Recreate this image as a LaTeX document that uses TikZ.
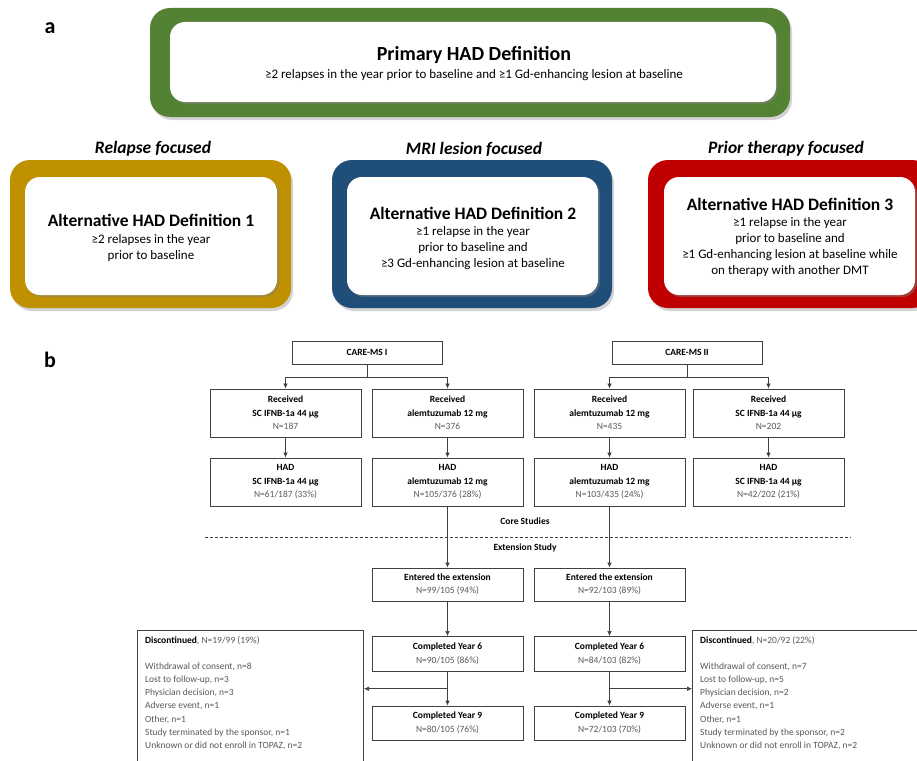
\documentclass[tikz,border=0pt]{standalone}
\usepackage{fontspec}
\setmainfont{Carlito}
\usetikzlibrary{arrows.meta,shadows,calc}
\definecolor{cgreen}{HTML}{548235}
\definecolor{cgold}{HTML}{BF9000}
\definecolor{cblue}{HTML}{1F4E79}
\definecolor{cred}{HTML}{C00000}
\definecolor{ctxt}{HTML}{595959}
\definecolor{cline}{HTML}{404040}
\begin{document}
\begin{tikzpicture}[x=1pt,y=-1pt,
  outerbox/.style={rounded corners=20pt, fill=#1, drop shadow={opacity=0.35, shadow xshift=2pt, shadow yshift=-3pt}},
  innerbox/.style={rounded corners=15pt, fill=white, drop shadow={opacity=0.45, shadow xshift=2pt, shadow yshift=-2pt}},
  panel/.style={font=\fontsize{22}{24}\selectfont\bfseries},
  deftitle/.style={font=\fontsize{17.5}{19}\selectfont\bfseries, inner sep=0pt},
  defbody/.style={font=\fontsize{13}{16}\selectfont, align=center, inner sep=0pt},
  focus/.style={font=\fontsize{17.5}{19}\selectfont\bfseries\itshape, inner sep=0pt},
  fbox/.style={draw=cline, line width=1pt, fill=white, minimum width=151pt, align=center, inner sep=0pt, font=\fontsize{9.5}{13.5}\selectfont},
  lbl/.style={font=\fontsize{9.5}{12}\selectfont\bfseries, inner sep=0pt},
  conn/.style={draw=cline, line width=0.6pt},
  arr/.style={conn, -{Latex[length=5pt,width=4.5pt]}},
  gtxt/.style={text=ctxt}
]
\useasboundingbox (0,0) rectangle (917,760);
\clip (0,0) rectangle (917,760);

% ---------- panel a ----------
\node[panel] (la) at (50,28) {a};
\path[outerbox=cgreen] (150,8) rectangle (790,117);
\path[innerbox] (170,22) rectangle (776,102);
\node[font=\fontsize{20}{22}\selectfont\bfseries, inner sep=0pt] (pt) at (474,55) {Primary HAD Definition};
\node[font=\fontsize{13}{15}\selectfont, inner sep=0pt] (pb) at (474,75) {≥2 relapses in the year prior to baseline and ≥1 Gd-enhancing lesion at baseline};

\node[focus] (f1) at (153,149) {Relapse focused};
\node[focus] (f2) at (474,149) {MRI lesion focused};
\node[focus] (f3) at (786,149) {Prior therapy focused};

\path[outerbox=cgold] (10,160) rectangle (291,308);
\path[innerbox] (25,177) rectangle (277,295);
\node[deftitle] (d1t) at (151,220) {Alternative HAD Definition 1};
\node[defbody] (d1b) at (151,248) {≥2 relapses in the year\\prior to baseline};

\path[outerbox=cblue] (332,160) rectangle (612,308);
\path[innerbox] (347,177) rectangle (598,295);
\node[deftitle] (d2t) at (473,213) {Alternative HAD Definition 2};
\node[defbody] (d2b) at (473,248) {≥1 relapse in the year\\prior to baseline and\\≥3 Gd-enhancing lesion at baseline};

\path[outerbox=cred] (648,160) rectangle (932,308);
\path[innerbox] (664,177) rectangle (915,295);
\node[deftitle] (d3t) at (790,204) {Alternative HAD Definition 3};
\node[defbody] (d3b) at (790,247) {≥1 relapse in the year\\prior to baseline and\\≥1 Gd-enhancing lesion at baseline while\\on therapy with another DMT};

% ---------- panel b ----------
\node[panel] (lb) at (50,360) {b};

\node[fbox, minimum width=150pt, minimum height=23pt, font=\fontsize{9.5}{12}\selectfont\bfseries] (cm1) at (367,352.5) {CARE-MS I};
\node[fbox, minimum width=150pt, minimum height=23pt, font=\fontsize{9.5}{12}\selectfont\bfseries] (cm2) at (687,352.5) {CARE-MS II};

\node[fbox, minimum height=48pt] (r1) at (285.5,413) {\textbf{Received}\\\textbf{SC IFNB-1a 44 µg}\\{\color{ctxt}N=187}};
\node[fbox, minimum height=48pt] (r2) at (447.5,413) {\textbf{Received}\\\textbf{alemtuzumab 12 mg}\\{\color{ctxt}N=376}};
\node[fbox, minimum height=48pt] (r3) at (609.5,413) {\textbf{Received}\\\textbf{alemtuzumab 12 mg}\\{\color{ctxt}N=435}};
\node[fbox, minimum height=48pt] (r4) at (768.5,413) {\textbf{Received}\\\textbf{SC IFNB-1a 44 µg}\\{\color{ctxt}N=202}};

\node[fbox, minimum height=48pt] (h1) at (285.5,482) {\textbf{HAD}\\\textbf{SC IFNB-1a 44 µg}\\{\color{ctxt}N=61/187 (33\%)}};
\node[fbox, minimum height=48pt] (h2) at (447.5,482) {\textbf{HAD}\\\textbf{alemtuzumab 12 mg}\\{\color{ctxt}N=105/376 (28\%)}};
\node[fbox, minimum height=48pt] (h3) at (609.5,482) {\textbf{HAD}\\\textbf{alemtuzumab 12 mg}\\{\color{ctxt}N=103/435 (24\%)}};
\node[fbox, minimum height=48pt] (h4) at (768.5,482) {\textbf{HAD}\\\textbf{SC IFNB-1a 44 µg}\\{\color{ctxt}N=42/202 (21\%)}};

\node[lbl] (core) at (525,521) {Core Studies};
\coordinate (dl) at (205,537);
\coordinate (dr) at (851,537);
\draw[draw=cline, line width=0.6pt, dash pattern=on 3pt off 2pt] (dl) -- (dr);
\node[lbl] (ext) at (525,548) {Extension Study};

\node[fbox, minimum height=33pt] (e1) at (447.5,584.5) {\textbf{Entered the extension}\\{\color{ctxt}N=99/105 (94\%)}};
\node[fbox, minimum height=33pt] (e2) at (609.5,584.5) {\textbf{Entered the extension}\\{\color{ctxt}N=92/103 (89\%)}};

\node[fbox, minimum height=35pt] (y61) at (447.5,654) {\textbf{Completed Year 6}\\{\color{ctxt}N=90/105 (86\%)}};
\node[fbox, minimum height=35pt] (y62) at (609.5,654) {\textbf{Completed Year 6}\\{\color{ctxt}N=84/103 (82\%)}};

\node[fbox, minimum height=34pt] (y91) at (447.5,723) {\textbf{Completed Year 9}\\{\color{ctxt}N=80/105 (76\%)}};
\node[fbox, minimum height=34pt] (y92) at (609.5,723) {\textbf{Completed Year 9}\\{\color{ctxt}N=72/103 (70\%)}};

\node[fbox, minimum width=226pt, minimum height=140pt, anchor=north west] (x1) at (137,630) {};
\node[anchor=north west, align=left, inner sep=0pt, font=\fontsize{9.5}{13.2}\selectfont, text=ctxt] (x1t) at (145,636) {{\color{black}\textbf{Discontinued}}, N=19/99 (19\%)\\[13pt]Withdrawal of consent, n=8\\Lost to follow-up, n=3\\Physician decision, n=3\\Adverse event, n=1\\Other, n=1\\Study terminated by the sponsor, n=1\\Unknown or did not enroll in TOPAZ, n=2};

\node[fbox, minimum width=240pt, minimum height=140pt, anchor=north west] (x2) at (692,630) {};
\node[anchor=north west, align=left, inner sep=0pt, font=\fontsize{9.5}{13.2}\selectfont, text=ctxt] (x2t) at (700,636) {{\color{black}\textbf{Discontinued}}, N=20/92 (22\%)\\[13pt]Withdrawal of consent, n=7\\Lost to follow-up, n=5\\Physician decision, n=2\\Adverse event, n=1\\Other, n=1\\Study terminated by the sponsor, n=2\\Unknown or did not enroll in TOPAZ, n=2};

% connectors
\draw[conn] (cm1.south) -- ++(0,13) coordinate (j1);
\draw[arr] (j1) -| (r1.north);
\draw[arr] (j1) -| (r2.north);
\draw[conn] (cm2.south) -- ++(0,13) coordinate (j2);
\draw[arr] (j2) -| (r3.north);
\draw[arr] (j2) -| (r4.north);

\draw[arr] (r1) -- (h1);
\draw[arr] (r2) -- (h2);
\draw[arr] (r3) -- (h3);
\draw[arr] (r4) -- (h4);

\draw[arr] (h2) -- (e1);
\draw[arr] (h3) -- (e2);
\draw[arr] (e1) -- (y61);
\draw[arr] (e2) -- (y62);
\draw[arr] (y61) -- (y91);
\draw[arr] (y62) -- (y92);

\coordinate (m1) at ($(y61.south)!0.5!(y91.north)$);
\coordinate (m2) at ($(y62.south)!0.5!(y92.north)$);
\draw[arr] (m1) -- (m1 -| x1.east);
\draw[arr] (m2) -- (m2 -| x2.west);
\end{tikzpicture}
\end{document}
